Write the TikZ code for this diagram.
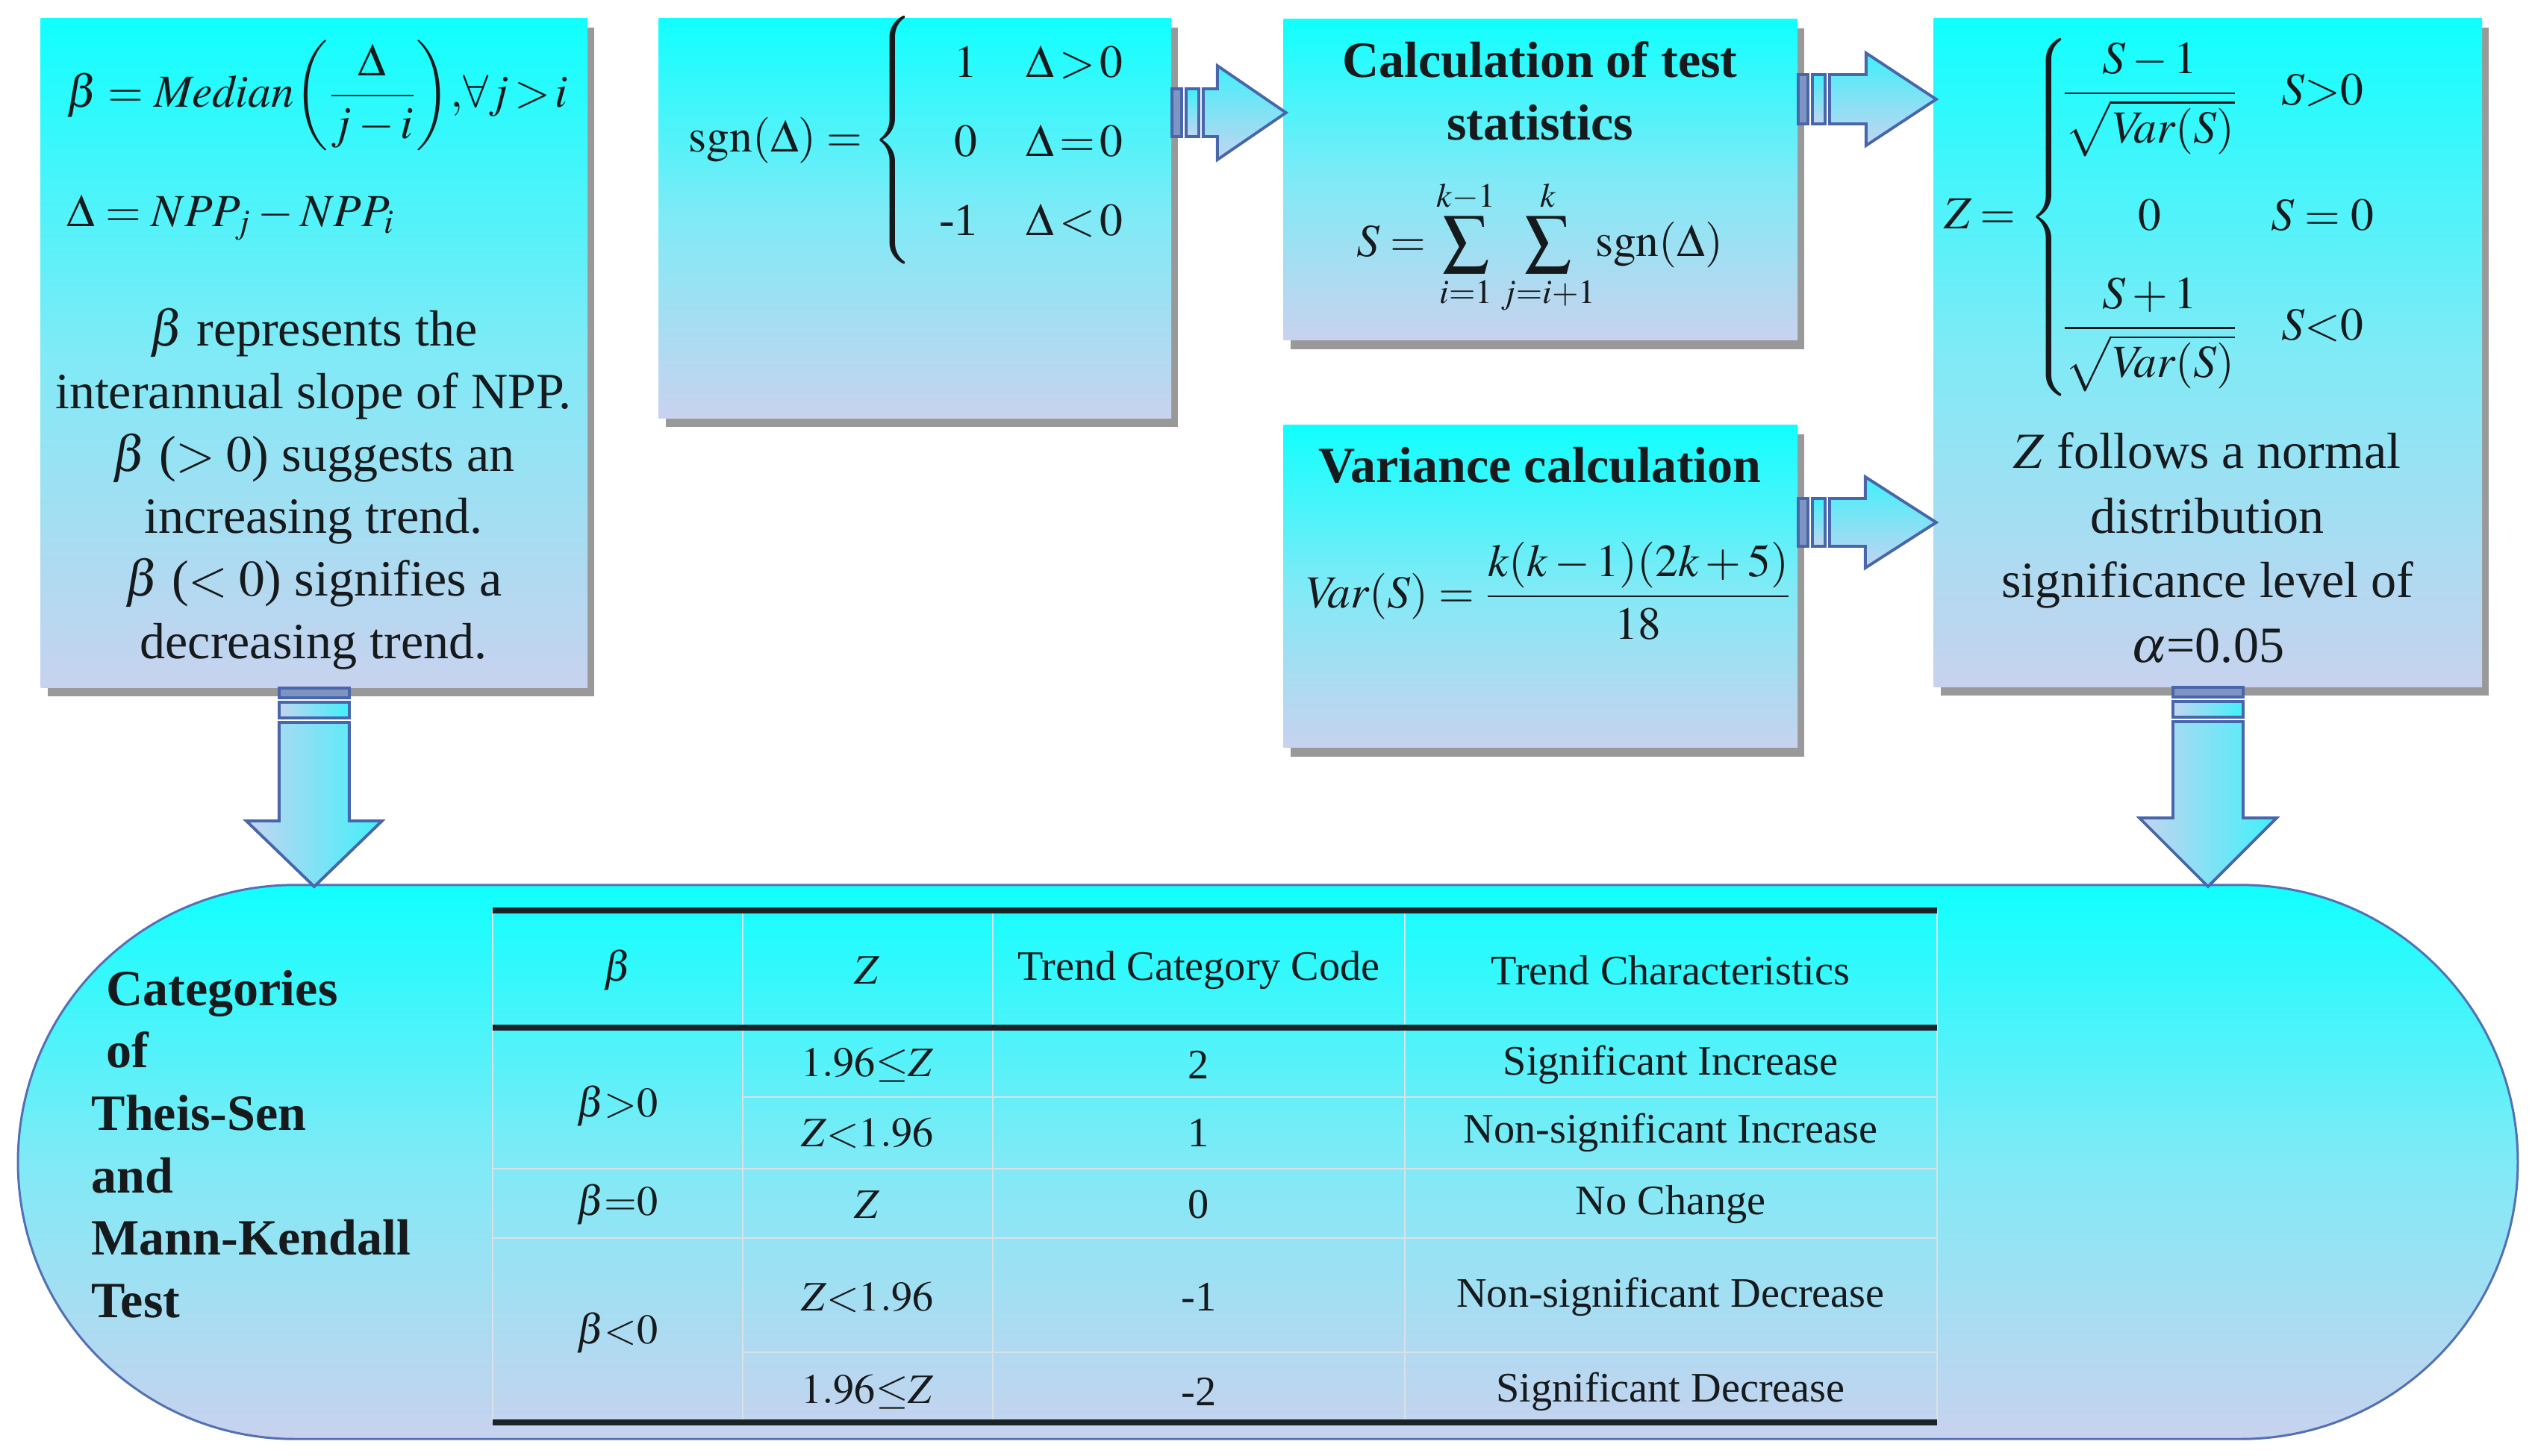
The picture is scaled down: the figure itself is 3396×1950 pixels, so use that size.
\documentclass[tikz,border=0pt]{standalone}
\usepackage{amsmath}
\usepackage{mathptmx}
\usepackage{fontspec}
\setmainfont{Liberation Serif}
\usetikzlibrary{shadows}
\definecolor{boxT}{RGB}{16,255,255}
\definecolor{boxM}{RGB}{128,234,246}
\definecolor{boxB}{RGB}{200,210,238}
\definecolor{arrC}{RGB}{64,240,250}
\definecolor{arrL}{RGB}{196,212,240}
\definecolor{arrB}{RGB}{72,102,170}
\definecolor{edgeB}{RGB}{84,112,180}
\definecolor{txt}{RGB}{22,26,28}
\definecolor{thinl}{RGB}{214,226,230}
\definecolor{thickl}{RGB}{24,36,40}
\newcommand{\fsMain}{\fontsize{19.35}{23.8}\selectfont}
\newcommand{\fsMath}{\fontsize{17.5}{21.5}\selectfont}
\newcommand{\fsZed}{\fontsize{19.35}{24.6}\selectfont}
\newcommand{\fsTab}{\fontsize{16}{19.5}\selectfont}
\tikzset{
  gbox/.style={rectangle, draw=none, inner sep=0pt, anchor=north west,
    top color=boxT, bottom color=boxB, middle color=boxM,
    drop shadow={shadow xshift=0.09cm, shadow yshift=-0.12cm, opacity=0.4, fill=black}},
  catshape/.style={rectangle, draw=edgeB, line width=0.85pt, inner sep=0pt,
    rounded corners=3.71cm, top color=boxT, bottom color=boxB, middle color=boxM},
  arrline/.style={draw=arrB, line width=1.1pt, line join=miter},
  thinrule/.style={draw=thinl, line width=0.7pt},
  thickrule/.style={draw=thickl, line width=2.3pt},
  tcell/.style={font=\fsTab, inner sep=0pt},
  fml/.style={font=\fsMath, inner sep=0pt},
  pics/rarrow/.style args={#1/#2/#3/#4}{code={
    \path[arrline, fill=arrB!70!white] (0,-#2) rectangle (13,#2);
    \path[arrline, top color=arrC, bottom color=arrL] (19,-#2) rectangle (36,#2);
    \path[arrline, top color=arrC, bottom color=arrL] (42,-#2) -- ({#1-#4},-#2) -- ({#1-#4},-#3) -- (#1,0) -- ({#1-#4},#3) -- ({#1-#4},#2) -- (42,#2) -- cycle;
  }},
  pics/darrow/.style args={#1/#2/#3/#4}{code={
    \path[arrline, fill=arrB!70!white] (-#2,0) rectangle (#2,13);
    \path[arrline, left color=arrL, right color=arrC] (-#2,19) rectangle (#2,40);
    \path[arrline, left color=arrL, right color=arrC] (-#2,46) -- (-#2,{#1-#4}) -- (-#3,{#1-#4}) -- (0,#1) -- (#3,{#1-#4}) -- (#2,{#1-#4}) -- (#2,46) -- cycle;
  }}
}
\begin{document}
\begin{tikzpicture}[x=0.01cm, y=-0.01cm, every node/.style={text=txt}]
\useasboundingbox (0,0) rectangle (3396,1950);

% boxes
\node[gbox, minimum width=7.32cm, minimum height=8.96cm] (b1) at (54,24) {};
\node[gbox, minimum width=6.86cm, minimum height=5.35cm] (b2) at (882,24) {};
\node[gbox, minimum width=6.88cm, minimum height=4.30cm] (b3) at (1719,25) {};
\node[gbox, minimum width=6.88cm, minimum height=4.32cm] (b4) at (1719,569) {};
\node[gbox, minimum width=7.34cm, minimum height=8.95cm] (b5) at (2590,24) {};
\node[catshape, minimum width=33.47cm, minimum height=7.42cm] (cat) at (1698.5,1557) {};

% box 1
\node[fml, anchor=west] (f1a) at (89,128)
  {$\beta=\mathit{Median}\!\left(\dfrac{\Delta}{j-i}\right)\!,\!\forall j\mkern2mu{>}\mkern2mu i$};
\node[fml, anchor=west] (f1b) at (89,292)
  {$\Delta=NPP_j-NPP_i$};
\node[font=\fsMain, align=center, inner sep=0pt] (t1) at (420,655)
  {$\beta$ represents the\\interannual slope of NPP.\\$\beta$ ($>0$) suggests an\\increasing trend.\\$\beta$ ($<0$) signifies a\\decreasing trend.};

% box 2
\node[fml, anchor=west] (f2) at (922,188)
  {\renewcommand{\arraystretch}{1.4}$\mathrm{sgn}(\Delta)=\left\{\begin{array}{@{\hspace{0.35cm}}r@{\hspace{0.65cm}}l}1&\Delta\mkern2mu{>}\mkern2mu0\\0&\Delta\mkern2mu{=}\mkern2mu0\\\mbox{-1}&\Delta\mkern2mu{<}\mkern2mu0\end{array}\right.$};

% box 3
\node[font=\fsMain\bfseries, align=center, inner sep=0pt] (t3) at (2063,122)
  {Calculation of test\\statistics};
\node[fml] (f3) at (2063,331)
  {$\displaystyle S=\sum_{i=1}^{k-1}\sum_{j=i+1}^{k}\!\mathrm{sgn}(\Delta)$};

% box 4
\node[font=\fsMain\bfseries, inner sep=0pt] (t4) at (2063,623) {Variance calculation};
\node[fml] (f4) at (2074,792)
  {$\mathit{Var}(S)=\dfrac{k(k-1)(2k+5)}{18}$};

% box 5
\node[fml, anchor=west] (f5) at (2604,291)
  {$Z\mkern3mu{=}\mkern3mu\left\{\begin{array}{@{\hspace{-0.1cm}}c@{\hspace{0.45cm}}c}
   \dfrac{S-1}{\sqrt{\mathit{Var}(S)}} & S{>}0\\[0.92cm]
   0 & S=0\\[0.41cm]
   \dfrac{S+1}{\sqrt{\mathit{Var}(S)}} & S{<}0
   \end{array}\right.$};
\node[font=\fsZed, align=center, inner sep=0pt] (t5) at (2957,734)
  {$Z$ follows a normal\\distribution\\significance level of\\$\alpha$=0.05};

% arrows
\pic at (b2.east |- 0,151) {rarrow=153/32/63/92};
\pic at (b3.east |- 0,133) {rarrow=185/33/62/94};
\pic at (b4.east |- 0,700) {rarrow=185/32/61/95};
\pic at (b1.south) {darrow=266/47/91/88};
\pic at (b5.south) {darrow=267/47/92/92};

% bottom text
\node[font=\fsMain\bfseries, align=left, anchor=west, inner sep=0pt] (cattxt) at (122,1533)
  {\hspace*{0.2cm}Categories\\\hspace*{0.2cm}of\\Theis-Sen\\and\\Mann-Kendall\\Test};

% table rules
\foreach \xx in {660,995,1330,1882,2595} \draw[thinrule] (\xx,1220) -- (\xx,1906);
\draw[thinrule] (995,1470) -- (2595,1470);
\draw[thinrule] (660,1566) -- (2595,1566);
\draw[thinrule] (660,1659) -- (2595,1659);
\draw[thinrule] (995,1812) -- (2595,1812);
\draw[thickrule] (660,1220) -- (2595,1220);
\draw[thickrule] (660,1377) -- (2595,1377);
\draw[thickrule] (660,1906) -- (2595,1906);

% table cells
\node[tcell] (h1) at (827,1300) {$\beta$};
\node[tcell] (h2) at (1162,1300) {$Z$};
\node[tcell] (h3) at (1606,1300) {Trend Category Code};
\node[tcell] (h4) at (2238,1300) {Trend Characteristics};
\node[tcell] (c11) at (827,1482) {$\beta{>}0$};
\node[tcell] (c12) at (1162,1427) {$1.96{\leq}Z$};
\node[tcell] (c13) at (1606,1427) {2};
\node[tcell] (c14) at (2238,1427) {Significant Increase};
\node[tcell] (c22) at (1162,1518) {$Z{<}1.96$};
\node[tcell] (c23) at (1606,1518) {1};
\node[tcell] (c24) at (2238,1518) {Non-significant Increase};
\node[tcell] (c31) at (827,1614) {$\beta{=}0$};
\node[tcell] (c32) at (1162,1614) {$Z$};
\node[tcell] (c33) at (1606,1614) {0};
\node[tcell] (c34) at (2238,1614) {No Change};
\node[tcell] (c41) at (827,1786) {$\beta{<}0$};
\node[tcell] (c42) at (1162,1738) {$Z{<}1.96$};
\node[tcell] (c43) at (1606,1738) {-1};
\node[tcell] (c44) at (2238,1738) {Non-significant Decrease};
\node[tcell] (c52) at (1162,1865) {$1.96{\leq}Z$};
\node[tcell] (c53) at (1606,1865) {-2};
\node[tcell] (c54) at (2238,1865) {Significant Decrease};
\end{tikzpicture}
\end{document}
